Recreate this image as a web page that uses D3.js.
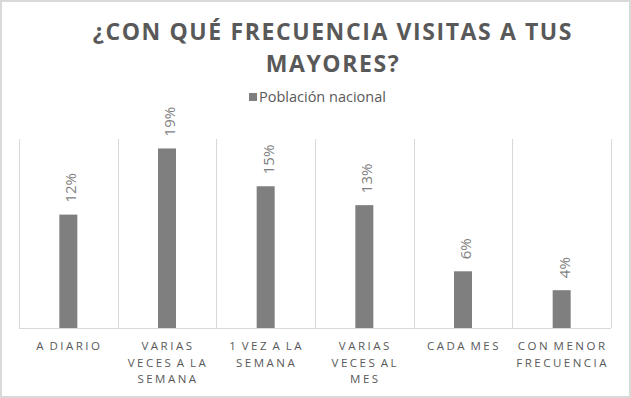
<!DOCTYPE html>
<html lang="es">
<head>
<meta charset="UTF-8">
<title>¿Con qué frecuencia visitas a tus mayores?</title>
<script src="https://cdn.jsdelivr.net/npm/d3@7"></script>
<style>
  body { margin: 0; background: #fff; font-family: "Open Sans", "Liberation Sans", sans-serif; }
  .title { fill: #595959; font-weight: bold; font-size: 23px; letter-spacing: 1.6px; }
  .legend { fill: #595959; font-size: 14.5px; }
  .bar { fill: #7f7f7f; }
  .bar-label { fill: #7f7f7f; font-size: 15px; }
  .cat text { fill: #595959; font-size: 11.5px; letter-spacing: 2.5px; word-spacing: -2px; }
  .grid line { stroke: #d9d9d9; }
</style>
</head>
<body>
<svg width="631" height="398"></svg>
<script>
  const categories = [
    ['A DIARIO'],
    ['VARIAS', 'VECES A LA', 'SEMANA'],
    ['1 VEZ A LA', 'SEMANA'],
    ['VARIAS', 'VECES AL', 'MES'],
    ['CADA MES'],
    ['CON MENOR', 'FRECUENCIA']
  ];
  const values = [12, 19, 15, 13, 6, 4];
  const seriesName = 'Población nacional';
  const titleLines = ['¿CON QUÉ FRECUENCIA VISITAS A TUS', 'MAYORES?'];

  const svg = d3.select('svg');
  const W = 631, H = 398;

  // outer frame
  svg.append('rect')
    .attr('x', 1).attr('y', 1)
    .attr('width', W - 2).attr('height', H - 2)
    .attr('fill', '#fff')
    .attr('stroke', '#d9d9d9').attr('stroke-width', 2);

  // title
  svg.append('text')
    .attr('class', 'title')
    .attr('text-anchor', 'middle')
    .selectAll('tspan')
    .data(titleLines)
    .enter().append('tspan')
    .attr('x', 333)
    .attr('y', (d, i) => 40 + i * 32)
    .text(d => d);

  // legend
  const legend = svg.append('g').attr('transform', 'translate(249,93)');
  legend.append('rect').attr('width', 8).attr('height', 8).attr('fill', '#7f7f7f');
  legend.append('text').attr('class', 'legend').attr('x', 10).attr('y', 9).text(seriesName);

  const margin = { left: 19, right: 20, top: 139, bottom: 70 };
  const x = d3.scaleBand()
    .domain(d3.range(categories.length))
    .range([margin.left, W - margin.right]);
  const y = d3.scaleLinear()
    .domain([0, 20])
    .range([H - margin.bottom, margin.top]);

  // vertical gridlines at category boundaries
  const bounds = x.domain().map(i => x(i)).concat([x.range()[1]]);
  const grid = svg.append('g').attr('class', 'grid');
  grid.selectAll('line.v')
    .data(bounds)
    .enter().append('line')
    .attr('class', 'v')
    .attr('x1', d => Math.round(d) + 0.5).attr('x2', d => Math.round(d) + 0.5)
    .attr('y1', y(20)).attr('y2', y(0));
  grid.append('line')
    .attr('x1', x.range()[0]).attr('x2', x.range()[1])
    .attr('y1', y(0) + 0.5).attr('y2', y(0) + 0.5);

  // bars
  const barW = 18;
  svg.selectAll('.bar')
    .data(values)
    .enter().append('rect')
    .attr('class', 'bar')
    .attr('x', (d, i) => x(i) + x.bandwidth() / 2 - barW / 2)
    .attr('y', d => y(d))
    .attr('width', barW)
    .attr('height', d => y(0) - y(d));

  // value labels, rotated
  svg.selectAll('.bar-label')
    .data(values)
    .enter().append('text')
    .attr('class', 'bar-label')
    .attr('transform', (d, i) => `translate(${x(i) + x.bandwidth() / 2 + 8},${y(d) - 12}) rotate(-90)`)
    .text(d => d + '%');

  // category labels
  const cat = svg.append('g').attr('class', 'cat');
  cat.selectAll('text')
    .data(categories)
    .enter().append('text')
    .attr('text-anchor', 'middle')
    .each(function(lines, i) {
      d3.select(this).selectAll('tspan')
        .data(lines)
        .enter().append('tspan')
        .attr('x', x(i) + x.bandwidth() / 2 + 1)
        .attr('y', (d, j) => y(0) + 22 + j * 16.5)
        .text(d => d);
    });
</script>
</body>
</html>
